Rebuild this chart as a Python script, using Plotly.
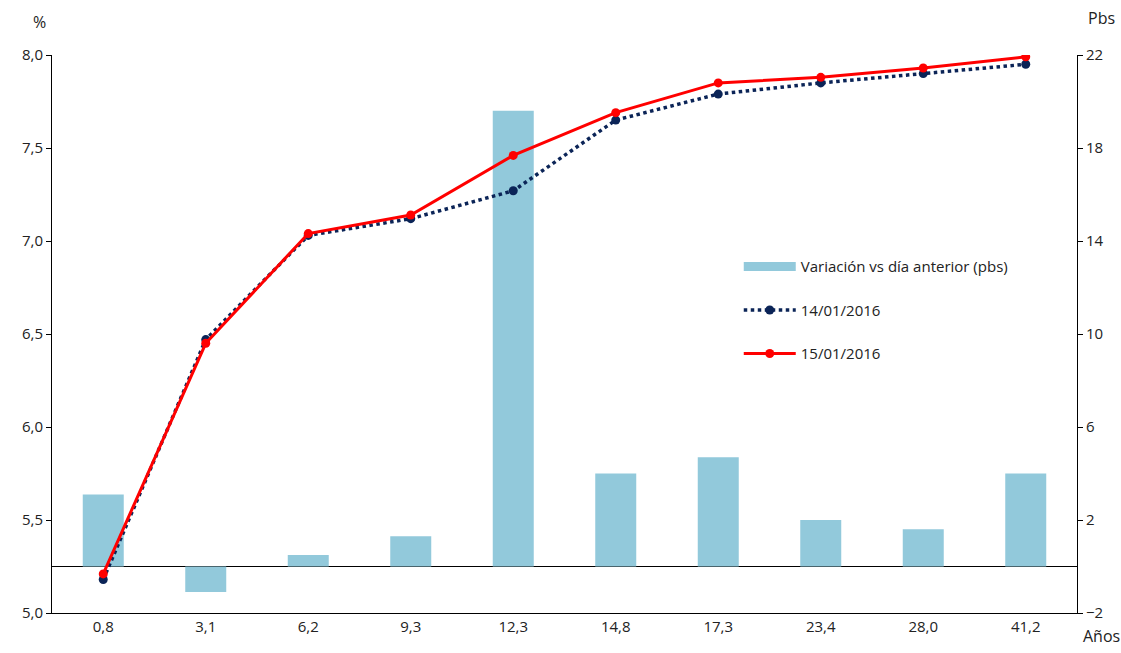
import plotly.graph_objects as go

# Plazos (años) de la curva
plazos = ["0,8", "3,1", "6,2", "9,3", "12,3", "14,8", "17,3", "23,4", "28,0", "41,2"]

# Variación respecto al día anterior (pbs)
variacion_pbs = [3.1, -1.1, 0.5, 1.3, 19.6, 4.0, 4.7, 2.0, 1.6, 4.0]

# Tasas (%) por fecha
tasa_14_01 = [5.18, 6.47, 7.03, 7.12, 7.27, 7.65, 7.79, 7.85, 7.90, 7.95]
tasa_15_01 = [5.21, 6.45, 7.04, 7.14, 7.46, 7.69, 7.85, 7.88, 7.93, 7.99]

FONT = "Liberation Sans Narrow, Open Sans, Noto Sans, sans-serif"
TXT = "#222222"
BAR_COLOR = "#92C9DB"

fig = go.Figure()

fig.add_trace(go.Bar(
    x=plazos, y=variacion_pbs, name="Variación vs día anterior (pbs)",
    marker=dict(color=BAR_COLOR, line=dict(width=0)),
    width=0.4, yaxis="y", showlegend=False,
))

# Legend entry for the bars, drawn as a wide flat swatch
fig.add_trace(go.Scatter(
    x=[None], y=[None], name="Variación vs día anterior (pbs)", mode="lines",
    line=dict(color=BAR_COLOR, width=9), yaxis="y", legendgroup="a",
))

fig.add_trace(go.Scatter(
    x=plazos, y=tasa_14_01, name="14/01/2016", mode="lines+markers",
    line=dict(color="#0B2457", width=3.5, dash="dot"),
    marker=dict(color="#0B2457", size=9, symbol="circle"),
    yaxis="y2", legendgroup="b",
))

fig.add_trace(go.Scatter(
    x=plazos, y=tasa_15_01, name="15/01/2016", mode="lines+markers",
    line=dict(color="#FF0000", width=3),
    marker=dict(color="#FF0000", size=9, symbol="circle"),
    yaxis="y2", legendgroup="c",
))

fig.update_layout(
    width=1121, height=653,
    margin=dict(l=52, r=44, t=55, b=40),
    paper_bgcolor="white", plot_bgcolor="white",
    font=dict(family=FONT, size=15, color=TXT),
    separators=",.",
    bargap=0.6,
    xaxis=dict(
        type="category", range=[-0.5, len(plazos) - 0.5],
        showline=True, linecolor="black", linewidth=1,
        ticks="", showgrid=False, zeroline=False, automargin=False,
        tickfont=dict(size=15, color=TXT),
    ),
    yaxis=dict(
        side="right", range=[-2, 22], tick0=-2, dtick=4,
        showline=True, linecolor="black", linewidth=1,
        ticks="outside", ticklen=5, tickcolor="black", automargin=False,
        showgrid=False, zeroline=True, zerolinecolor="black", zerolinewidth=1.3,
        tickfont=dict(size=15, color=TXT),
    ),
    yaxis2=dict(
        overlaying="y", side="left", range=[5.0, 8.0], dtick=0.5,
        tickformat=".1f", automargin=False,
        showline=True, linecolor="black", linewidth=1,
        ticks="outside", ticklen=5, tickcolor="black",
        showgrid=False, zeroline=False,
        tickfont=dict(size=15, color=TXT),
    ),
    showlegend=True,
    legend=dict(
        x=0.67, y=0.65, xanchor="left", yanchor="top",
        bgcolor="rgba(0,0,0,0)", font=dict(size=15, color=TXT),
        traceorder="grouped", tracegroupgap=21, itemwidth=52,
    ),
    annotations=[
        dict(text="%", xref="paper", yref="paper", x=-0.012, y=1.06,
             showarrow=False, xanchor="center", yanchor="middle",
             font=dict(size=16, color=TXT)),
        dict(text="Pbs", xref="paper", yref="paper", x=1.024, y=1.067,
             showarrow=False, xanchor="center", yanchor="middle",
             font=dict(size=16, color=TXT)),
        dict(text="Años", xref="paper", yref="paper", x=1.024, y=-0.042,
             showarrow=False, xanchor="center", yanchor="middle",
             font=dict(size=16, color=TXT)),
    ],
)

fig.write_html("out.html")
